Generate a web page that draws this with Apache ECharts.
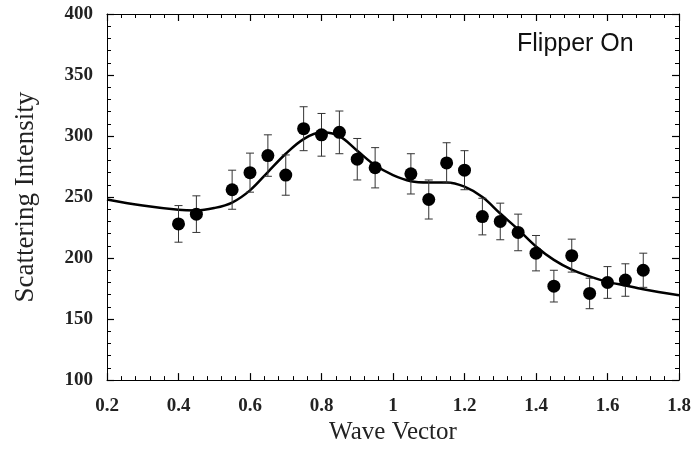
<!DOCTYPE html>
<html>
<head>
<meta charset="UTF-8">
<title>Flipper On</title>
<script src="https://cdn.jsdelivr.net/npm/echarts@6/dist/echarts.min.js"></script>
<style>
  html, body { margin: 0; padding: 0; background: #fff; }
  #chart { width: 695px; height: 450px; }
</style>
</head>
<body>
<div id="chart"></div>
<script>
// measured points
var waveX = [0.40, 0.45, 0.55, 0.60, 0.65, 0.70, 0.75, 0.80, 0.85, 0.90, 0.95, 1.05, 1.10, 1.15, 1.20, 1.25, 1.30, 1.35, 1.40, 1.45, 1.50, 1.55, 1.60, 1.65, 1.70];
var intensity = [228, 236, 256, 270, 284, 268, 306, 301, 303, 281, 274, 269, 248, 278, 272, 234, 230, 221, 204, 177, 202, 171, 180, 182, 190];
var errSize = [15, 15, 16, 16, 17, 16.5, 18, 17.5, 17.5, 17, 16.5, 16.5, 16, 16.5, 16, 15, 15, 15, 14.5, 13, 13.5, 12.5, 13, 13.3, 14];

// fitted curve
var fitX = [0.2, 0.3, 0.4, 0.45, 0.5, 0.55, 0.6, 0.65, 0.7, 0.75, 0.8, 0.85, 0.9, 0.95, 1.0, 1.05, 1.1, 1.15, 1.2, 1.25, 1.3, 1.35, 1.4, 1.45, 1.5, 1.55, 1.6, 1.65, 1.7, 1.8];
var fitY = [248, 243, 239.5, 239, 241, 245.5, 255.5, 270.5, 285.5, 297.5, 303, 300, 288, 276, 268, 263, 262, 262, 258.5, 250, 236.5, 223.5, 209.5, 198.5, 190.5, 185, 180.5, 177.5, 174.5, 169.5];

var serif = '"Liberation Serif", "Times New Roman", serif';

var points = waveX.map(function (x, i) { return [x, intensity[i]]; });
var bars = waveX.map(function (x, i) { return [x, intensity[i] - errSize[i], intensity[i] + errSize[i]]; });
var fit = fitX.map(function (x, i) { return [x, fitY[i]]; });

var tickCommon = {
  axisLine: { show: true, lineStyle: { color: '#000', width: 1 } },
  axisTick: { show: true, inside: true, length: 7, lineStyle: { color: '#000', width: 1.2 } },
  minorTick: { show: true, splitNumber: 5, length: 4, lineStyle: { color: '#000', width: 1 } },
  splitLine: { show: false }
};

var chart = echarts.init(document.getElementById('chart'));
chart.setOption({
  animation: false,
  backgroundColor: '#fff',
  grid: { left: 107, right: 16, top: 14, bottom: 68 },
  xAxis: [
    Object.assign({
      type: 'value', min: 0.2, max: 1.8, interval: 0.2,
      name: 'Wave Vector', nameLocation: 'middle', nameGap: 30,
      nameTextStyle: { fontFamily: serif, fontSize: 25, color: '#222' },
      axisLabel: { margin: 16, fontFamily: serif, fontWeight: 'bold', fontSize: 19, color: '#222',
        formatter: function (v) { return +v.toFixed(1) + ''; } }
    }, tickCommon),
    Object.assign({
      type: 'value', position: 'top', min: 0.2, max: 1.8, interval: 0.2,
      axisLabel: { show: false }
    }, tickCommon)
  ],
  yAxis: [
    Object.assign({
      type: 'value', min: 100, max: 400, interval: 50,
      name: 'Scattering Intensity', nameLocation: 'middle', nameGap: 68,
      nameTextStyle: { fontFamily: serif, fontSize: 27, color: '#222' },
      axisLabel: { margin: 14, fontFamily: serif, fontWeight: 'bold', fontSize: 19, color: '#222' }
    }, tickCommon),
    Object.assign({
      type: 'value', position: 'right', min: 100, max: 400, interval: 50,
      axisLabel: { show: false }
    }, tickCommon)
  ],
  graphic: [{
    type: 'text', left: 517, top: 32,
    style: { text: 'Flipper On', fontFamily: '"Liberation Sans", Arial, sans-serif', fontSize: 25, fill: '#111' }
  }],
  series: [
    {
      type: 'line', data: fit, smooth: 0.35, showSymbol: false, z: 2,
      lineStyle: { color: '#000', width: 2.5 }
    },
    {
      type: 'custom', data: bars, z: 3,
      renderItem: function (params, api) {
        var lo = api.coord([api.value(0), api.value(1)]);
        var hi = api.coord([api.value(0), api.value(2)]);
        var w = 4;
        var st = { stroke: '#333', lineWidth: 1 };
        return {
          type: 'group',
          children: [
            { type: 'line', shape: { x1: lo[0], y1: lo[1], x2: hi[0], y2: hi[1] }, style: st },
            { type: 'line', shape: { x1: lo[0] - w, y1: lo[1], x2: lo[0] + w, y2: lo[1] }, style: st },
            { type: 'line', shape: { x1: hi[0] - w, y1: hi[1], x2: hi[0] + w, y2: hi[1] }, style: st }
          ]
        };
      }
    },
    {
      type: 'scatter', data: points, symbol: 'circle', symbolSize: 13, z: 4,
      itemStyle: { color: '#000', opacity: 1 }
    }
  ]
});
</script>
</body>
</html>
